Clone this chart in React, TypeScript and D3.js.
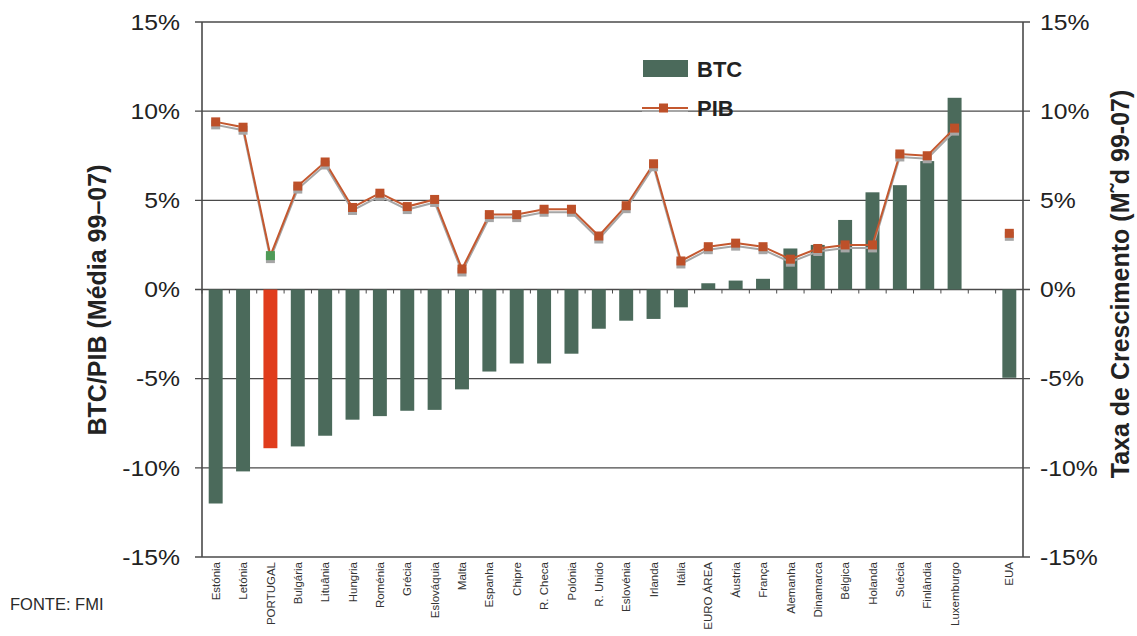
import React from "react";
import * as d3 from "d3";

// BTC/PIB balance (average 1999-07) and GDP growth rate per country
const categories = [
  "Estónia", "Letónia", "PORTUGAL", "Bulgária", "Lituânia", "Hungria", "Roménia",
  "Grécia", "Eslováquia", "Malta", "Espanha", "Chipre", "R. Checa", "Polónia",
  "R. Unido", "Eslovénia", "Irlanda", "Itália", "EURO ÁREA", "Áustria", "França",
  "Alemanha", "Dinamarca", "Bélgica", "Holanda", "Suécia", "Finlândia", "Luxemburgo",
  "EUA",
];
const btcValues = [
  -12.0, -10.2, -8.9, -8.8, -8.2, -7.3, -7.1, -6.8, -6.75, -5.6, -4.6, -4.15, -4.15,
  -3.6, -2.2, -1.75, -1.65, -1.0, 0.35, 0.5, 0.6, 2.3, 2.5, 3.9, 5.45, 5.85, 7.2, 10.75,
  -4.95,
];
const pibValues = [
  9.4, 9.1, 1.9, 5.8, 7.15, 4.6, 5.4, 4.65, 5.05, 1.15, 4.2, 4.2, 4.5, 4.5, 3.0, 4.7,
  7.05, 1.6, 2.4, 2.6, 2.4, 1.7, 2.3, 2.5, 2.5, 7.6, 7.5, 9.05, 3.15,
];
const yTicks = [15, 10, 5, 0, -5, -10, -15];
const highlight = "PORTUGAL";
const separate = "EUA";

const W = 1137;
const H = 636;
const left = 202;
const right = 1023;
const top = 22;
const bottom = 557;

const FONT = "'Liberation Sans', Arial, Helvetica, sans-serif";
const BAR = "#4b6a5b";
const BAR_HL = "#e03c1c";
const LINE = "#c4582f";
const MARK = "#bd5029";
const MARK_HL = "#4f9a57";
const SHADOW = "#a6a6a6";
const GRID = "#4a4a4a";
const WIDE = 1.15; // horizontal stretch of the axis number labels

export default function App() {
  // band domain with an empty slot before the separated country
  const slots = [...categories.filter((c) => c !== separate), "__gap__", separate];
  const x = d3.scaleBand<string>().domain(slots).range([left, right]).paddingInner(0).paddingOuter(0);
  const y = d3.scaleLinear().domain([-15, 15]).range([bottom, top]);
  const bw = x.bandwidth() * 0.51;
  const cx = (c: string) => (x(c) as number) + x.bandwidth() / 2;

  const rows = categories.map((c, i) => ({ c, btc: btcValues[i], pib: pibValues[i] }));
  const lineRows = rows.filter((r) => r.c !== separate);
  const line = d3
    .line<{ c: string; pib: number }>()
    .x((d) => cx(d.c))
    .y((d) => y(d.pib));
  const linePath = line(lineRows) || "";

  const ms = 9;

  return (
    <svg
      width={W}
      height={H}
      viewBox={`0 0 ${W} ${H}`}
      style={{ position: "absolute", left: 0, top: 0, background: "#fff" }}
      fontFamily={FONT}
    >
      <rect x={0} y={0} width={W} height={H} fill="#fff" />

      {/* horizontal gridlines */}
      {yTicks.map((t) => (
        <line key={"g" + t} x1={left - 7} x2={right + 7} y1={y(t)} y2={y(t)} stroke={GRID} strokeWidth={1.4} />
      ))}
      {/* vertical axes */}
      <line x1={left} x2={left} y1={top} y2={bottom} stroke={GRID} strokeWidth={1.6} />
      <line x1={right} x2={right} y1={top} y2={bottom} stroke={GRID} strokeWidth={1.6} />

      {/* bars */}
      {rows.map((r) => {
        const y0 = y(0);
        const y1 = y(r.btc);
        return (
          <rect
            key={"b" + r.c}
            x={cx(r.c) - bw / 2}
            y={Math.min(y0, y1)}
            width={bw}
            height={Math.abs(y1 - y0)}
            fill={r.c === highlight ? BAR_HL : BAR}
          />
        );
      })}

      {/* category ticks along the zero line */}
      {slots.map((s) => (
        <line
          key={"t" + s}
          x1={x(s) as number}
          x2={x(s) as number}
          y1={y(0)}
          y2={y(0) + 4}
          stroke={GRID}
          strokeWidth={1}
        />
      ))}

      {/* PIB line with drop shadow */}
      <path d={linePath} fill="none" stroke={SHADOW} strokeWidth={2} transform="translate(0,3)" />
      <path d={linePath} fill="none" stroke={LINE} strokeWidth={2} />
      {rows.map((r) => (
        <rect
          key={"ms" + r.c}
          x={cx(r.c) - ms / 2}
          y={y(r.pib) - ms / 2 + 3}
          width={ms}
          height={ms}
          fill={SHADOW}
        />
      ))}
      {rows.map((r) => (
        <rect
          key={"m" + r.c}
          x={cx(r.c) - ms / 2}
          y={y(r.pib) - ms / 2}
          width={ms}
          height={ms}
          fill={r.c === highlight ? MARK_HL : MARK}
        />
      ))}

      {/* left axis labels */}
      {yTicks.map((t) => (
        <text
          key={"l" + t}
          transform={`translate(180, ${y(t)}) scale(${WIDE}, 1)`}
          dy="0.36em"
          textAnchor="end"
          fontSize={21.5}
          fill="#222"
        >
          {t}%
        </text>
      ))}
      {/* right axis labels */}
      {yTicks.map((t) => (
        <text
          key={"r" + t}
          transform={`translate(1040, ${y(t)}) scale(${WIDE}, 1)`}
          dy="0.36em"
          textAnchor="start"
          fontSize={21.5}
          fill="#222"
        >
          {t}%
        </text>
      ))}

      {/* axis titles */}
      <text
        transform="translate(106, 300) rotate(-90)"
        textAnchor="middle"
        fontSize={25}
        fontWeight="bold"
        fill="#222"
      >
        BTC/PIB (Média 99–07)
      </text>
      <text
        transform="translate(1129, 284) rotate(-90)"
        textAnchor="middle"
        fontSize={25}
        fontWeight="bold"
        fill="#222"
      >
        Taxa de Crescimento (M˜d 99-07)
      </text>

      {/* category labels */}
      {categories.map((c) => (
        <text
          key={"c" + c}
          transform={`translate(${cx(c)}, ${bottom + 5}) rotate(-90)`}
          dy="0.36em"
          textAnchor="end"
          fontSize={11.5}
          fill="#333"
        >
          {c}
        </text>
      ))}

      {/* legend */}
      <rect x={643} y={60} width={45} height={17} fill={BAR} />
      <text x={697} y={77} fontSize={22} fontWeight="bold" fill="#222">
        BTC
      </text>
      <line x1={642} x2={688} y1={111} y2={111} stroke={SHADOW} strokeWidth={2} />
      <line x1={642} x2={688} y1={108} y2={108} stroke={LINE} strokeWidth={2} />
      <rect x={659} y={103.5} width={ms} height={ms} fill={MARK} />
      <text x={697} y={116} fontSize={22} fontWeight="bold" fill="#222">
        PIB
      </text>

      {/* source */}
      <text x={10} y={610} fontSize={16.5} fill="#2a2a2a">
        FONTE: FMI
      </text>
    </svg>
  );
}
